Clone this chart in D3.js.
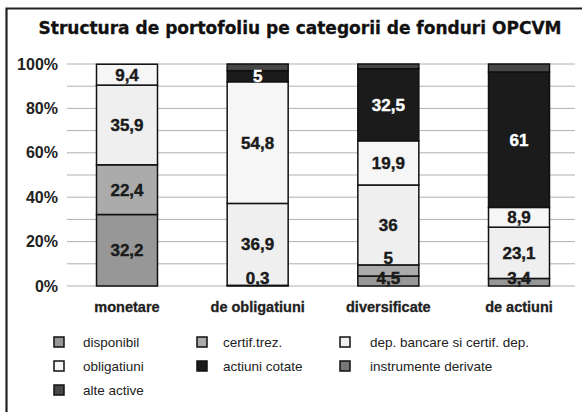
<!DOCTYPE html>
<html><head><meta charset="utf-8">
<script src="https://cdn.jsdelivr.net/npm/d3@7"></script>
<style>
html,body{margin:0;padding:0;background:#fff;}
svg{display:block;}
</style></head>
<body>
<svg id="chart" width="582" height="412"></svg>
<script>
const title = "Structura de portofoliu pe categorii de fonduri OPCVM";
const categories = ["monetare", "de obligatiuni", "diversificate", "de actiuni"];
const seriesNames = ["disponibil", "certif.trez.", "dep. bancare si certif. dep.", "obligatiuni", "actiuni cotate", "instrumente derivate", "alte active"];
const seriesColors = ["#979797", "#ababab", "#efefef", "#f6f6f6", "#1b1b1b", "#777777", "#474747"];
// values per category, one array per series (bottom to top)
const disponibil = [32.2, 0.3, 4.5, 3.4];
const certifTrez = [22.4, 0, 5, 0];
const depBancare = [35.9, 36.9, 36, 23.1];
const obligatiuni = [9.4, 54.8, 19.9, 8.9];
const actiuniCotate = [0, 5, 32.5, 61];
const instrumenteDerivate = [0, 0, 0, 0];
const alteActive = [0, 3.0, 2.1, 3.6];
const seriesValues = [disponibil, certifTrez, depBancare, obligatiuni, actiuniCotate, instrumenteDerivate, alteActive];
const labeledSeries = ["disponibil", "certif.trez.", "dep. bancare si certif. dep.", "obligatiuni", "actiuni cotate"];
const yTicks = [0, 20, 40, 60, 80, 100];
const yTickLabels = ["0%", "20%", "40%", "60%", "80%", "100%"];
const gridTicks = [0, 10, 20, 30, 40, 50, 60, 70, 80, 90, 100];

const svg = d3.select("#chart");
const FONT = "'Liberation Sans', Arial, sans-serif";
const COND = "'DejaVu Sans Condensed', 'DejaVu Sans', sans-serif";

// frame
svg.append("path").attr("d", "M6.5,412 V8.5 H582").attr("fill", "none").attr("stroke", "#222").attr("stroke-width", 2.2);

// title
svg.append("text").attr("x", 300).attr("y", 34).attr("text-anchor", "middle")
  .attr("font-family", COND).attr("font-weight", "bold").attr("font-size", 18.5).attr("fill", "#111")
  .attr("stroke", "#111").attr("stroke-width", 0.3)
  .attr("textLength", 523).attr("lengthAdjust", "spacingAndGlyphs").text(title);

const y = d3.scaleLinear().domain([0, 100]).range([286, 64]);
const x = d3.scalePoint().domain(categories).range([127, 519]);
const barW = 61;

// grid
svg.append("g").selectAll("line").data(gridTicks).join("line")
  .attr("x1", 67).attr("x2", 575).attr("y1", d => y(d)).attr("y2", d => y(d))
  .attr("stroke", "#b0b0b0").attr("stroke-width", 1);

// y tick labels
const yAxis = d3.axisLeft(y).tickValues(yTicks).tickFormat((d, i) => yTickLabels[i]).tickSize(0).tickPadding(0);
const gy = svg.append("g").attr("transform", "translate(58,0)").call(yAxis);
gy.select(".domain").remove();
gy.selectAll("text").attr("font-family", FONT).attr("font-weight", "bold").attr("font-size", 16).attr("fill", "#222");

// stack
const rows = categories.map((c, i) => {
  const r = {category: c};
  seriesNames.forEach((s, k) => r[s] = seriesValues[k][i]);
  return r;
});
const stack = d3.stack().keys(seriesNames)(rows);
const color = d3.scaleOrdinal().domain(seriesNames).range(seriesColors);

const g = svg.append("g");
stack.forEach(layer => {
  g.append("g").selectAll("rect").data(layer.filter(d => d[1] - d[0] > 0)).join("rect")
    .attr("x", d => x(d.data.category) - barW / 2)
    .attr("width", barW)
    .attr("y", d => y(d[1]))
    .attr("height", d => y(d[0]) - y(d[1]))
    .attr("fill", color(layer.key))
    .attr("stroke", "#111").attr("stroke-width", 1.5);
});

// labels with simple upward collision avoidance
categories.forEach((c, i) => {
  let prev = null;
  stack.forEach(layer => {
    if (!labeledSeries.includes(layer.key)) return;
    const d = layer[i];
    const v = d[1] - d[0];
    if (v <= 0) return;
    let cy = (y(d[0]) + y(d[1])) / 2;
    cy = Math.min(cy, 278);
    if (prev !== null) cy = Math.min(cy, prev - 20);
    prev = cy;
    const fill = layer.key === "actiuni cotate" ? "#fff" : "#1a1a1a";
    svg.append("text").attr("x", x(c)).attr("y", cy).attr("dy", "0.36em")
      .attr("text-anchor", "middle").attr("font-family", FONT).attr("font-weight", "bold")
      .attr("font-size", 17).attr("fill", fill).attr("stroke", fill).attr("stroke-width", 0.4)
      .text(String(v % 1 === 0 ? v : Math.round(v * 10) / 10).replace(".", ","));
  });
});

// category labels
svg.append("g").selectAll("text").data(categories).join("text")
  .attr("x", d => x(d)).attr("y", 312).attr("text-anchor", "middle")
  .attr("font-family", FONT).attr("font-weight", "bold").attr("font-size", 14.5).attr("fill", "#222")
  .attr("stroke", "#222").attr("stroke-width", 0.3)
  .text(d => d);

// legend
const legendCols = [54, 197, 340];
const legendTextX = [83, 223, 370];
const legendRows = [342, 366, 390];
const lg = svg.append("g");
seriesNames.forEach((s, k) => {
  const col = k % 3, row = Math.floor(k / 3);
  lg.append("rect").attr("x", legendCols[col]).attr("y", legendRows[row] - 5).attr("width", 10).attr("height", 10)
    .attr("fill", seriesColors[k]).attr("stroke", "#111").attr("stroke-width", 1.5);
  lg.append("text").attr("x", legendTextX[col]).attr("y", legendRows[row]).attr("dy", "0.35em")
    .attr("font-family", FONT).attr("font-size", 13.5).attr("fill", "#222").text(s);
});
</script>
</body></html>
